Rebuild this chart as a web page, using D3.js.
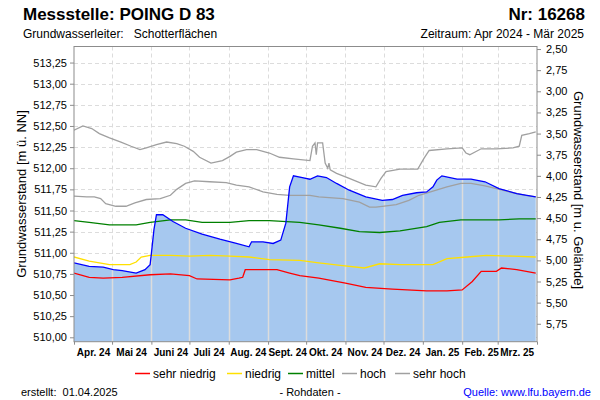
<!DOCTYPE html>
<html><head><meta charset="utf-8">
<script src="https://cdn.jsdelivr.net/npm/d3@7"></script>
<style>body{margin:0;background:#fff;} text{font-family:"Liberation Sans",Arial,sans-serif;}</style>
</head><body><svg id="c" width="600" height="400"></svg>
<script>
// ---------- data ----------
const monthLabels = ["Apr. 24","Mai 24","Juni 24","Juli 24","Aug. 24","Sept. 24","Okt. 24","Nov. 24","Dez. 24","Jan. 25","Feb. 25","Mrz. 25"];
const leftTicks = [510.00,510.25,510.50,510.75,511.00,511.25,511.50,511.75,512.00,512.25,512.50,512.75,513.00,513.25];
const rightTicks = [2.50,2.75,3.00,3.25,3.50,3.75,4.00,4.25,4.50,4.75,5.00,5.25,5.50,5.75];
const groundLevel = 515.91;
const periodStart = "2024-04-01", periodEnd = "2025-04-01";

const messwerte = [["2024-04-01",510.88],["2024-04-13",510.84],["2024-04-24",510.83],["2024-05-02",510.80],["2024-05-09",510.79],["2024-05-20",510.76],["2024-05-27",510.80],["2024-05-31",510.86],["2024-06-01",510.99],["2024-06-03",511.27],["2024-06-05",511.45],["2024-06-10",511.45],["2024-06-18",511.37],["2024-06-28",511.29],["2024-07-11",511.22],["2024-07-25",511.16],["2024-08-07",511.11],["2024-08-17",511.07],["2024-08-19",511.13],["2024-08-28",511.13],["2024-09-05",511.11],["2024-09-11",511.15],["2024-09-15",511.35],["2024-09-18",511.78],["2024-09-21",511.91],["2024-09-28",511.89],["2024-10-04",511.87],["2024-10-10",511.91],["2024-10-17",511.89],["2024-10-25",511.82],["2024-11-04",511.74],["2024-11-17",511.66],["2024-11-30",511.62],["2024-12-08",511.63],["2024-12-16",511.68],["2024-12-27",511.71],["2025-01-04",511.72],["2025-01-09",511.78],["2025-01-12",511.86],["2025-01-16",511.91],["2025-01-28",511.87],["2025-02-08",511.87],["2025-02-19",511.84],["2025-03-02",511.76],["2025-03-16",511.70],["2025-03-31",511.66]];

const sehrHoch = [["2024-04-01",512.45],["2024-04-08",512.50],["2024-04-15",512.47],["2024-04-21",512.41],["2024-04-29",512.36],["2024-05-08",512.31],["2024-05-16",512.26],["2024-05-23",512.22],["2024-05-28",512.24],["2024-06-05",512.28],["2024-06-13",512.31],["2024-06-21",512.29],["2024-06-27",512.26],["2024-07-04",512.20],["2024-07-09",512.13],["2024-07-18",512.06],["2024-07-27",512.09],["2024-08-02",512.14],["2024-08-07",512.19],["2024-08-15",512.22],["2024-08-23",512.22],["2024-09-02",512.18],["2024-09-10",512.13],["2024-09-21",512.11],["2024-10-04",512.09],["2024-10-06",512.26],["2024-10-08",512.30],["2024-10-09",512.16],["2024-10-10",512.30],["2024-10-14",512.30],["2024-10-16",512.06],["2024-10-18",512.00],["2024-10-19",512.06],["2024-10-20",511.98],["2024-10-25",511.94],["2024-11-04",511.88],["2024-11-17",511.80],["2024-11-25",511.78],["2024-11-29",511.88],["2024-12-03",511.96],["2024-12-14",511.99],["2024-12-28",511.99],["2025-01-02",512.12],["2025-01-06",512.21],["2025-01-20",512.23],["2025-02-01",512.24],["2025-02-04",512.18],["2025-02-07",512.16],["2025-02-16",512.23],["2025-02-28",512.23],["2025-03-13",512.24],["2025-03-18",512.26],["2025-03-20",512.39],["2025-03-26",512.41],["2025-03-31",512.43]];

const hoch = [["2024-04-01",511.67],["2024-04-11",511.66],["2024-04-17",511.66],["2024-04-22",511.64],["2024-04-26",511.58],["2024-05-04",511.55],["2024-05-12",511.55],["2024-05-19",511.59],["2024-05-28",511.63],["2024-06-08",511.64],["2024-06-16",511.68],["2024-06-21",511.75],["2024-06-28",511.82],["2024-07-05",511.85],["2024-07-17",511.84],["2024-07-30",511.83],["2024-08-07",511.80],["2024-08-17",511.78],["2024-08-28",511.72],["2024-09-08",511.69],["2024-09-18",511.68],["2024-10-04",511.68],["2024-10-11",511.66],["2024-10-30",511.64],["2024-11-12",511.60],["2024-11-20",511.54],["2024-11-25",511.54],["2024-11-30",511.55],["2024-12-11",511.57],["2024-12-21",511.62],["2024-12-29",511.68],["2025-01-09",511.73],["2025-01-20",511.78],["2025-01-31",511.82],["2025-02-08",511.82],["2025-02-19",511.79],["2025-02-28",511.76],["2025-03-13",511.71],["2025-03-23",511.68],["2025-03-31",511.66]];

const mittel = [["2024-04-01",511.38],["2024-04-13",511.36],["2024-04-29",511.33],["2024-05-20",511.33],["2024-05-31",511.36],["2024-06-16",511.39],["2024-06-28",511.39],["2024-07-11",511.36],["2024-08-02",511.36],["2024-08-17",511.38],["2024-09-02",511.38],["2024-09-26",511.36],["2024-10-11",511.33],["2024-10-28",511.29],["2024-11-12",511.25],["2024-11-28",511.24],["2024-12-14",511.26],["2025-01-04",511.31],["2025-01-14",511.36],["2025-01-31",511.39],["2025-03-02",511.39],["2025-03-18",511.40],["2025-03-31",511.40]];

const niedrig = [["2024-04-01",510.95],["2024-04-13",510.90],["2024-04-29",510.86],["2024-05-15",510.86],["2024-05-20",510.89],["2024-05-24",510.95],["2024-05-31",510.97],["2024-06-16",510.97],["2024-07-01",510.96],["2024-07-17",510.97],["2024-08-02",510.96],["2024-08-17",510.95],["2024-09-02",510.92],["2024-09-26",510.91],["2024-10-11",510.88],["2024-10-28",510.85],["2024-11-16",510.82],["2024-11-28",510.87],["2024-12-14",510.86],["2025-01-09",510.86],["2025-01-20",510.93],["2025-02-05",510.95],["2025-02-20",510.97],["2025-03-13",510.96],["2025-03-31",510.95]];

const sehrNiedrig = [["2024-04-01",510.76],["2024-04-13",510.71],["2024-04-24",510.70],["2024-05-09",510.71],["2024-05-31",510.74],["2024-06-16",510.75],["2024-07-01",510.73],["2024-07-07",510.69],["2024-08-02",510.68],["2024-08-09",510.70],["2024-08-12",510.71],["2024-08-14",510.80],["2024-09-08",510.80],["2024-09-18",510.76],["2024-09-26",510.73],["2024-10-11",510.70],["2024-11-01",510.64],["2024-11-17",510.59],["2024-12-08",510.57],["2025-01-04",510.55],["2025-01-20",510.55],["2025-02-01",510.56],["2025-02-09",510.66],["2025-02-16",510.78],["2025-02-28",510.78],["2025-03-04",510.82],["2025-03-16",510.80],["2025-03-31",510.76]];

const legendNames = ["sehr niedrig","niedrig","mittel","hoch","sehr hoch"];

// ---------- styles / layout ----------
const colors = {"sehr niedrig":"#ff0000","niedrig":"#ffe000","mittel":"#008000","hoch":"#a0a0a0","sehr hoch":"#a0a0a0"};
const seriesData = {"sehr niedrig":sehrNiedrig,"niedrig":niedrig,"mittel":mittel,"hoch":hoch,"sehr hoch":sehrHoch};
const L = 74, R = 537, T = 46.5, B = 341.7;
const parse = d3.timeParse("%Y-%m-%d");
const comma = v => d3.format(".2f")(v).replace(".", ",");

const svg = d3.select("#c");
const x = d3.scaleTime().domain([parse(periodStart), parse(periodEnd)]).range([L, R]);
const y = d3.scaleLinear().domain([509.948, 513.44]).range([B, T]);
const yDepth = d3.scaleLinear().domain([groundLevel - 509.948, groundLevel - 513.44]).range([B, T]);

const months = d3.timeMonth.range(parse(periodStart), parse(periodEnd));

// clip
const defs = svg.append("defs");
defs.append("clipPath").attr("id","plot").append("rect").attr("x",L).attr("y",T).attr("width",R-L).attr("height",B-T);

// grid
const g = svg.append("g").attr("clip-path","url(#plot)");
g.selectAll(".hg").data(leftTicks).join("line")
  .attr("x1",L).attr("x2",R).attr("y1",d=>Math.round(y(d))+0.5).attr("y2",d=>Math.round(y(d))+0.5)
  .attr("stroke","#dcdcdc").attr("stroke-dasharray","4,3");
g.selectAll(".vg").data(months.slice(1)).join("line")
  .attr("x1",d=>Math.round(x(d))+0.5).attr("x2",d=>Math.round(x(d))+0.5).attr("y1",T).attr("y2",B)
  .attr("stroke","#dcdcdc").attr("stroke-dasharray","4,3");

// area of measurements
const pts = messwerte.map(d=>[parse(d[0]), d[1]]);
const area = d3.area().x(d=>x(d[0])).y0(B).y1(d=>y(d[1]));
g.append("path").datum(pts).attr("d",area).attr("fill","#a6c8ef");
defs.append("clipPath").attr("id","areaClip").append("path").datum(pts).attr("d",area);
g.append("g").attr("clip-path","url(#areaClip)").selectAll("line").data(months.slice(1)).join("line")
  .attr("x1",d=>Math.round(x(d))+0.5).attr("x2",d=>Math.round(x(d))+0.5).attr("y1",T).attr("y2",B)
  .attr("stroke","#dcdcdc").attr("stroke-width",1.5);

// reference lines
const line = d3.line().x(d=>x(d[0])).y(d=>y(d[1]));
["sehr hoch","hoch","mittel","niedrig","sehr niedrig"].forEach(n=>{
  g.append("path").datum(seriesData[n].map(d=>[parse(d[0]),d[1]])).attr("d",line)
   .attr("fill","none").attr("stroke",colors[n]).attr("stroke-width",1.3);
});
g.append("path").datum(pts).attr("d",line).attr("fill","none").attr("stroke","#0000ff").attr("stroke-width",1.3);

// frame
svg.append("rect").attr("x",L).attr("y",T).attr("width",R-L).attr("height",B-T)
  .attr("fill","none").attr("stroke","#8c8c8c").attr("stroke-width",1);

// axes
const yl = svg.append("g").attr("transform",`translate(${L},0)`)
  .call(d3.axisLeft(y).tickValues(leftTicks).tickFormat(comma).tickSize(4).tickPadding(3));
const yr = svg.append("g").attr("transform",`translate(${R},0)`)
  .call(d3.axisRight(yDepth).tickValues(rightTicks).tickFormat(comma).tickSize(4).tickPadding(5));
const xt = svg.append("g").attr("transform",`translate(0,${B})`)
  .call(d3.axisBottom(x).tickValues(months.concat([parse(periodEnd)])).tickFormat("").tickSize(3));
const xl = svg.append("g").attr("transform",`translate(0,${B})`)
  .call(d3.axisBottom(x).tickValues(months.map(m=>d3.timeDay.offset(m,15))).tickFormat((d,i)=>monthLabels[i]).tickSize(0).tickPadding(7));
[yl,yr,xt,xl].forEach(a=>{
  a.select(".domain").remove();
  a.selectAll("line").attr("stroke","#8c8c8c");
  a.selectAll("text").attr("font-family","Liberation Sans, Arial, sans-serif").attr("font-size",11).attr("fill","#000");
});
xl.selectAll("text").attr("font-weight","bold").attr("font-size",10);

// axis titles
svg.append("text").attr("transform","translate(26,194) rotate(-90)").attr("text-anchor","middle")
  .attr("font-size",13).text("Grundwasserstand [m ü. NN]");
svg.append("text").attr("transform","translate(574,190) rotate(90)").attr("text-anchor","middle")
  .attr("font-size",13).text("Grundwasserstand [m u. Gelände]");

// titles
svg.append("text").attr("x",23).attr("y",20).attr("font-size",17).attr("font-weight","bold").text("Messstelle: POING D 83");
svg.append("text").attr("x",585).attr("y",20).attr("text-anchor","end").attr("font-size",17).attr("font-weight","bold").text("Nr: 16268");
svg.append("text").attr("x",23).attr("y",38).attr("font-size",12).attr("xml:space","preserve").text("Grundwasserleiter:   Schotterflächen");
svg.append("text").attr("x",584).attr("y",38).attr("text-anchor","end").attr("font-size",12).text("Zeitraum: Apr 2024 - Mär 2025");

// legend
const legX = [135,227,288,342,395];
legendNames.forEach((n,i)=>{
  svg.append("line").attr("x1",legX[i]).attr("x2",legX[i]+15).attr("y1",373.5).attr("y2",373.5)
    .attr("stroke",colors[n]).attr("stroke-width",1.5);
  svg.append("text").attr("x",legX[i]+18).attr("y",378).attr("font-size",12).text(n);
});

// footer
svg.append("text").attr("x",21).attr("y",396).attr("font-size",11).attr("xml:space","preserve").text("erstellt:  01.04.2025");
svg.append("text").attr("x",310).attr("y",396).attr("text-anchor","middle").attr("font-size",11).text("- Rohdaten -");
svg.append("text").attr("x",591).attr("y",396).attr("text-anchor","end").attr("font-size",11).attr("fill","#0000ff").text("Quelle: www.lfu.bayern.de");
</script></body></html>
